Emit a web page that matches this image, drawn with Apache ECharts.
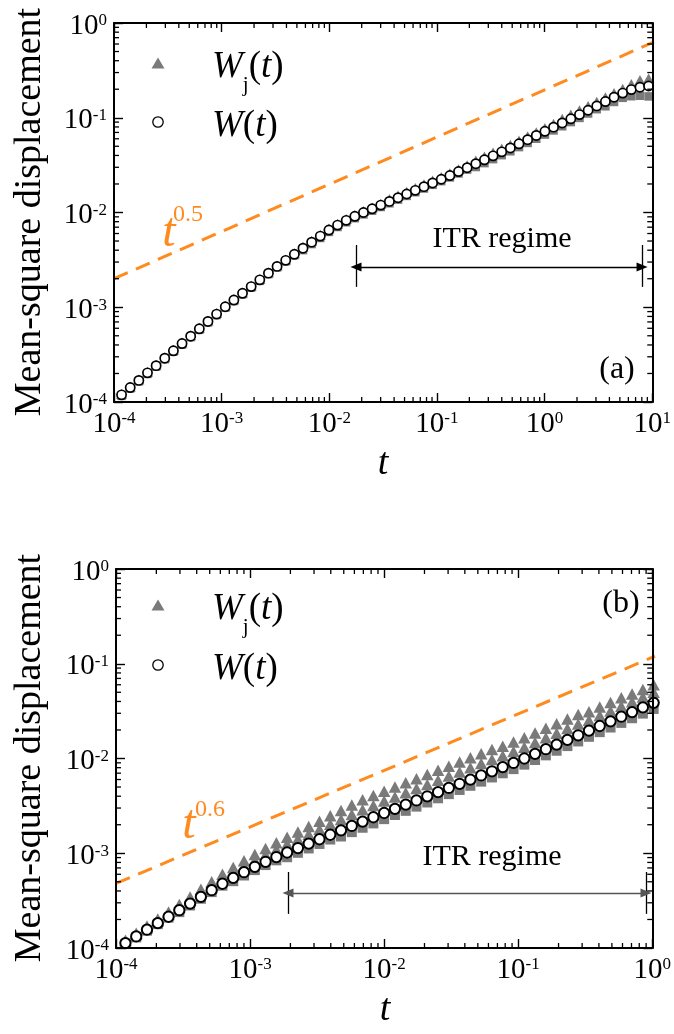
<!DOCTYPE html>
<html>
<head>
<meta charset="utf-8">
<script src="https://cdn.jsdelivr.net/npm/echarts@6/dist/echarts.min.js"></script>
<style>
html, body { margin: 0; padding: 0; background: #fff; }
#chart, #frame { position: absolute; left: 0; top: 0; width: 674px; height: 1034px; }
#frame { pointer-events: none; }
</style>
</head>
<body>
<div id="chart"></div>
<div id="frame"></div>
<script>
// time points, step of 0.08 decades (panel b uses the first 50)
const tA = [
  1.175e-4, 1.413e-4, 1.698e-4, 2.042e-4, 2.455e-4, 2.951e-4, 3.548e-4, 4.266e-4, 5.129e-4, 6.166e-4, 7.413e-4, 8.913e-4,
  1.072e-3, 1.288e-3, 1.549e-3, 1.862e-3, 2.239e-3, 2.692e-3, 3.236e-3, 3.890e-3, 4.677e-3, 5.623e-3, 6.761e-3, 8.128e-3, 9.772e-3,
  1.175e-2, 1.413e-2, 1.698e-2, 2.042e-2, 2.455e-2, 2.951e-2, 3.548e-2, 4.266e-2, 5.129e-2, 6.166e-2, 7.413e-2, 8.913e-2,
  0.1072, 0.1288, 0.1549, 0.1862, 0.2239, 0.2692, 0.3236, 0.3890, 0.4677, 0.5623, 0.6761, 0.8128, 0.9772,
  1.175, 1.413, 1.698, 2.042, 2.455, 2.951, 3.548, 4.266, 5.129, 6.166, 7.413, 8.913
];
const tB = tA.slice(0, 50);

// panel (a)
const wA = [
  1.19e-4, 1.42e-4, 1.69e-4, 2.03e-4, 2.42e-4, 2.90e-4, 3.47e-4, 4.14e-4, 4.95e-4, 5.92e-4, 7.08e-4, 8.47e-4,
  1.012e-3, 1.191e-3, 1.403e-3, 1.652e-3, 1.945e-3, 2.291e-3, 2.698e-3, 3.126e-3, 3.622e-3, 4.198e-3, 4.864e-3, 5.636e-3, 6.531e-3,
  7.362e-3, 8.260e-3, 9.120e-3, 1.000e-2, 1.094e-2, 1.197e-2, 1.309e-2, 1.432e-2, 1.567e-2, 1.714e-2, 1.875e-2, 2.051e-2,
  2.244e-2, 2.455e-2, 2.704e-2, 2.972e-2, 3.273e-2, 3.597e-2, 3.963e-2, 4.365e-2, 4.797e-2, 5.309e-2, 5.875e-2, 6.501e-2, 7.194e-2,
  7.962e-2, 8.810e-2, 9.750e-2, 0.1079, 0.1200, 0.1334, 0.1483, 0.1648, 0.1820, 0.1982, 0.2099, 0.2163
];
const wjHighA = [
  1.22e-4, 1.45e-4, 1.73e-4, 2.08e-4, 2.48e-4, 2.97e-4, 3.55e-4, 4.24e-4, 5.06e-4, 6.06e-4, 7.24e-4, 8.67e-4,
  1.035e-3, 1.218e-3, 1.435e-3, 1.690e-3, 1.990e-3, 2.344e-3, 2.760e-3, 3.198e-3, 3.705e-3, 4.345e-3, 5.034e-3, 5.833e-3, 6.760e-3,
  7.620e-3, 8.549e-3, 9.439e-3, 1.035e-2, 1.132e-2, 1.239e-2, 1.386e-2, 1.516e-2, 1.659e-2, 1.815e-2, 1.986e-2, 2.172e-2,
  2.376e-2, 2.600e-2, 2.864e-2, 3.147e-2, 3.548e-2, 3.899e-2, 4.296e-2, 4.732e-2, 5.200e-2, 5.755e-2, 6.369e-2, 7.047e-2, 7.798e-2,
  8.631e-2, 9.770e-2, 0.1081, 0.1197, 0.1331, 0.1479, 0.1645, 0.1828, 0.2018, 0.2275, 0.2500, 0.2600
];
const wjLowA = [
  1.16e-4, 1.39e-4, 1.65e-4, 1.98e-4, 2.36e-4, 2.83e-4, 3.39e-4, 4.04e-4, 4.84e-4, 5.78e-4, 6.92e-4, 8.28e-4,
  9.89e-4, 1.164e-3, 1.371e-3, 1.614e-3, 1.900e-3, 2.238e-3, 2.636e-3, 3.054e-3, 3.539e-3, 4.009e-3, 4.645e-3, 5.382e-3, 6.237e-3,
  7.031e-3, 7.888e-3, 8.710e-3, 9.550e-3, 1.045e-2, 1.143e-2, 1.250e-2, 1.368e-2, 1.496e-2, 1.637e-2, 1.791e-2, 1.959e-2,
  2.143e-2, 2.345e-2, 2.582e-2, 2.838e-2, 3.021e-2, 3.320e-2, 3.658e-2, 4.029e-2, 4.428e-2, 4.900e-2, 5.423e-2, 6.000e-2, 6.640e-2,
  7.349e-2, 8.132e-2, 9.000e-2, 9.959e-2, 0.1108, 0.1231, 0.1321, 0.1468, 0.1622, 0.1687, 0.1706, 0.1679
];

// panel (b)
const wB = [
  1.127e-4, 1.324e-4, 1.560e-4, 1.828e-4, 2.138e-4, 2.506e-4, 2.944e-4, 3.467e-4, 4.074e-4, 4.764e-4, 5.495e-4, 6.310e-4,
  7.194e-4, 8.128e-4, 9.120e-4, 1.019e-3, 1.135e-3, 1.262e-3, 1.406e-3, 1.567e-3, 1.746e-3, 1.941e-3, 2.158e-3, 2.399e-3, 2.661e-3,
  2.944e-3, 3.258e-3, 3.606e-3, 3.990e-3, 4.416e-3, 4.887e-3, 5.408e-3, 5.984e-3, 6.622e-3, 7.328e-3, 8.110e-3, 8.974e-3,
  1.000e-2, 1.119e-2, 1.253e-2, 1.403e-2, 1.570e-2, 1.758e-2, 1.968e-2, 2.203e-2, 2.466e-2, 2.761e-2, 3.090e-2, 3.459e-2, 3.873e-2
];
const wjTopB = [
  1.208e-4, 1.435e-4, 1.710e-4, 2.027e-4, 2.399e-4, 2.877e-4, 3.459e-4, 4.167e-4, 5.011e-4, 5.998e-4, 7.078e-4, 8.317e-4,
  9.705e-4, 1.122e-3, 1.289e-3, 1.472e-3, 1.679e-3, 1.911e-3, 2.178e-3, 2.484e-3, 2.832e-3, 3.222e-3, 3.664e-3, 4.073e-3, 4.518e-3,
  4.999e-3, 5.532e-3, 6.123e-3, 6.775e-3, 7.498e-3, 8.298e-3, 9.183e-3, 1.016e-2, 1.124e-2, 1.244e-2, 1.346e-2, 1.490e-2,
  1.660e-2, 1.858e-2, 2.080e-2, 2.329e-2, 2.606e-2, 2.918e-2, 3.119e-2, 3.492e-2, 3.909e-2, 4.376e-2, 4.786e-2, 5.358e-2, 5.999e-2
];
const wjMidB = [
  1.166e-4, 1.386e-4, 1.633e-4, 1.936e-4, 2.264e-4, 2.717e-4, 3.227e-4, 3.845e-4, 4.571e-4, 5.407e-4, 6.308e-4, 7.326e-4,
  8.453e-4, 9.664e-4, 1.096e-3, 1.253e-3, 1.413e-3, 1.589e-3, 1.791e-3, 2.018e-3, 2.275e-3, 2.558e-3, 2.879e-3, 3.200e-3, 3.550e-3,
  3.927e-3, 4.346e-3, 4.810e-3, 5.323e-3, 5.891e-3, 6.519e-3, 7.214e-3, 7.983e-3, 8.834e-3, 9.776e-3, 1.069e-2, 1.183e-2,
  1.318e-2, 1.475e-2, 1.651e-2, 1.849e-2, 2.069e-2, 2.317e-2, 2.535e-2, 2.838e-2, 3.176e-2, 3.556e-2, 3.980e-2, 4.455e-2, 4.988e-2
];
const wjLowB = [
  1.101e-4, 1.294e-4, 1.524e-4, 1.786e-4, 2.089e-4, 2.393e-4, 2.812e-4, 3.311e-4, 3.891e-4, 4.550e-4, 5.072e-4, 5.824e-4,
  6.640e-4, 7.502e-4, 8.418e-4, 9.079e-4, 1.011e-3, 1.124e-3, 1.253e-3, 1.396e-3, 1.503e-3, 1.671e-3, 1.858e-3, 2.066e-3, 2.291e-3,
  2.535e-3, 2.805e-3, 3.105e-3, 3.435e-3, 3.802e-3, 4.208e-3, 4.656e-3, 5.152e-3, 5.702e-3, 6.309e-3, 6.983e-3, 7.727e-3,
  8.610e-3, 9.635e-3, 1.079e-2, 1.208e-2, 1.352e-2, 1.514e-2, 1.694e-2, 1.897e-2, 2.123e-2, 2.377e-2, 2.660e-2, 2.978e-2, 3.335e-2
];

// power-law guides (end points)
const guideTA = [1e-4, 10];
const guideWA = [2.0e-3, 0.632];
const guideTB = [1e-4, 1];
const guideWB = [4.8e-4, 0.12];

// ITR regime markers: [t start, t end], bar extent, arrow level
const itrTA = [0.0174, 7.75];
const itrBarA = [1.64e-3, 4.54e-3];
const itrLevelA = 2.66e-3;
const itrTB = [1.89e-3, 0.857];
const itrBarB = [2.29e-4, 6.34e-4];
const itrLevelB = 3.80e-4;

const SERIF = 'Liberation Serif';
const GRAY = '#7a7a7a';
const ORANGE = '#ff8a1e';

const grids = [
  { left: 114, top: 23, width: 540, height: 379 },
  { left: 116, top: 569, width: 539, height: 379 }
];

// data chart below, axis frame chart on top
let chart = echarts.init(document.getElementById('chart'));
let frame = echarts.init(document.getElementById('frame'));

function pairs(xs, ys) {
  return ys.map(function (y, i) { return [xs[i], y]; });
}

function powLabel(v) {
  return '{b|10}{e|' + Math.round(Math.log10(v)) + '}';
}

const labelRich = {
  b: { fontFamily: SERIF, fontSize: 29, lineHeight: 28, padding: [6, 0, 0, 0], color: '#000' },
  e: { fontFamily: SERIF, fontSize: 17, lineHeight: 28, padding: [0, 0, 4, 0], color: '#000' }
};

// hidden axes for the data chart: they only map values to pixels
function plainAxis(gridIndex, min, max) {
  return {
    type: 'log', logBase: 10, gridIndex: gridIndex, min: min, max: max,
    axisLine: { show: false }, axisTick: { show: false }, axisLabel: { show: false }, splitLine: { show: false }
  };
}

// visible axes for the frame chart
function frameAxis(dim, gridIndex, position, min, max, labelled) {
  return {
    type: 'log', logBase: 10, gridIndex: gridIndex, position: position,
    min: min, max: max,
    axisLine: { show: true, onZero: false, lineStyle: { color: '#000', width: 2 } },
    axisTick: { show: true, inside: true, length: 9, lineStyle: { color: '#000', width: 1.4 } },
    splitLine: { show: false },
    axisLabel: { show: labelled, formatter: powLabel, rich: labelRich, margin: dim === 'x' ? 5 : 7 }
  };
}

function scatter(axisIndex, xs, ys, symbol, size, itemStyle) {
  return {
    type: 'scatter', xAxisIndex: axisIndex, yAxisIndex: axisIndex,
    data: pairs(xs, ys), symbol: symbol, symbolSize: size, itemStyle: itemStyle
  };
}

function itrMarks(range, bars, level, color) {
  return {
    symbol: ['none', 'none'], label: { show: false },
    lineStyle: { color: '#000', width: 1.3, type: 'solid' },
    data: [
      [{ coord: [range[0], bars[0]] }, { coord: [range[0], bars[1]] }],
      [{ coord: [range[1], bars[0]] }, { coord: [range[1], bars[1]] }],
      [
        { coord: [range[0], level], symbol: 'triangle', symbolSize: [9, 11], lineStyle: { color: color } },
        { coord: [range[1], level], symbol: 'triangle', symbolSize: [9, 11] }
      ]
    ]
  };
}

function guide(axisIndex, ts, ws, marks) {
  return {
    type: 'line', xAxisIndex: axisIndex, yAxisIndex: axisIndex,
    data: pairs(ts, ws), symbol: 'none',
    lineStyle: { color: ORANGE, width: 3, type: [15, 9] },
    markLine: marks
  };
}

const legendRich = {
  w: { fontFamily: SERIF, fontStyle: 'italic', fontSize: 37, lineHeight: 40, padding: [9, 0, 0, 0], fill: '#000' },
  j: { fontFamily: SERIF, fontSize: 21, lineHeight: 40, padding: [44, 0, 0, 0], fill: '#000' },
  p: { fontFamily: SERIF, fontSize: 37, lineHeight: 40, padding: [9, 0, 0, 0], fill: '#000' },
  t: { fontFamily: SERIF, fontStyle: 'italic', fontSize: 37, lineHeight: 40, padding: [9, 0, 0, 0], fill: '#000' }
};

function text(x, y, str, font, color, rotation) {
  return {
    type: 'text', x: x, y: y, z: 20, rotation: rotation || 0,
    style: { text: str, font: font, fill: color || '#000', align: 'center', verticalAlign: 'middle' }
  };
}

// legend keys: triangle + W_j(t), circle + W(t)
function legendKey(cy1, cy2) {
  return [
    { type: 'polygon', z: 20, shape: { points: [[151.5, cy1 + 5.5], [158, cy1 - 5.5], [164.5, cy1 + 5.5]] }, style: { fill: GRAY } },
    { type: 'circle', z: 20, shape: { cx: 158, cy: cy2, r: 5.2 }, style: { fill: '#fff', stroke: '#000', lineWidth: 1.3 } },
    { type: 'text', z: 20, x: 212, y: cy1, style: { text: '{w|W}{j|j}{p|(}{t|t}{p|)}', rich: legendRich, align: 'left', verticalAlign: 'middle' } },
    { type: 'text', z: 20, x: 212, y: cy2, style: { text: '{w|W}{p|(}{t|t}{p|)}', rich: legendRich, align: 'left', verticalAlign: 'middle' } }
  ];
}

const circleA = { color: '#fff', borderColor: '#000', borderWidth: 1.7, opacity: 1 };
const circleB = { color: '#fff', borderColor: '#000', borderWidth: 2, opacity: 1 };
const grayFill = { color: GRAY, opacity: 1 };

const labels = [
  text(30, 212, 'Mean-square displacement', '38px "Liberation Serif"', '#000', Math.PI / 2),
  text(30, 758, 'Mean-square displacement', '38px "Liberation Serif"', '#000', Math.PI / 2),
  text(383, 464, 't', 'italic 38px "Liberation Serif"'),
  text(385, 1010, 't', 'italic 38px "Liberation Serif"'),
  text(617, 370, '(a)', '32px "Liberation Serif"'),
  text(621, 604, '(b)', '32px "Liberation Serif"'),
  text(502, 239, 'ITR regime', '30px "Liberation Serif"'),
  text(492, 857, 'ITR regime', '30px "Liberation Serif"'),
  text(169, 233, 't', 'italic 48px "Liberation Serif"', ORANGE),
  text(188, 215, '0.5', '24px "Liberation Serif"', ORANGE),
  text(189, 825, 't', 'italic 48px "Liberation Serif"', ORANGE),
  text(210, 810, '0.6', '24px "Liberation Serif"', ORANGE)
].concat(legendKey(63, 122), legendKey(605, 665));

chart.setOption({
  animation: false,
  grid: grids,
  xAxis: [plainAxis(0, 1e-4, 10), plainAxis(1, 1e-4, 1)],
  yAxis: [plainAxis(0, 1e-4, 1), plainAxis(1, 1e-4, 1)],
  series: [
    scatter(0, tA, wjLowA, 'rect', 8.5, grayFill),
    scatter(0, tA, wjHighA, 'triangle', [11, 10], grayFill),
    scatter(0, tA, wA, 'circle', 9.2, circleA),
    guide(0, guideTA, guideWA, itrMarks(itrTA, itrBarA, itrLevelA, '#000')),

    scatter(1, tB, wjLowB, 'rect', 10, grayFill),
    scatter(1, tB, wjTopB, 'triangle', [12.5, 11.5], grayFill),
    scatter(1, tB, wjMidB, 'triangle', [12.5, 11.5], grayFill),
    scatter(1, tB, wB, 'circle', 10.3, circleB),
    guide(1, guideTB, guideWB, itrMarks(itrTB, itrBarB, itrLevelB, '#555'))
  ],
  graphic: labels
});

frame.setOption({
  animation: false,
  grid: grids,
  xAxis: [
    frameAxis('x', 0, 'bottom', 1e-4, 10, true),
    frameAxis('x', 0, 'top', 1e-4, 10, false),
    frameAxis('x', 1, 'bottom', 1e-4, 1, true),
    frameAxis('x', 1, 'top', 1e-4, 1, false)
  ],
  yAxis: [
    frameAxis('y', 0, 'left', 1e-4, 1, true),
    frameAxis('y', 0, 'right', 1e-4, 1, false),
    frameAxis('y', 1, 'left', 1e-4, 1, true),
    frameAxis('y', 1, 'right', 1e-4, 1, false)
  ],
  series: [
    { type: 'line', xAxisIndex: 0, yAxisIndex: 0, data: [] },
    { type: 'line', xAxisIndex: 2, yAxisIndex: 2, data: [] }
  ]
});

// minor ticks at 2..9 x 10^k on all four sides, placed with the frame axes' scales
function minorValues(e0, e1) {
  let out = [];
  for (let e = e0; e < e1; e++) {
    for (let m = 2; m <= 9; m++) out.push(m * Math.pow(10, e));
  }
  return out;
}

function minorLines(xi, yi, xr, yr) {
  const out = [];
  const px = function (v) { return frame.convertToPixel({ xAxisIndex: xi }, v); };
  const py = function (v) { return frame.convertToPixel({ yAxisIndex: yi }, v); };
  const left = px(xr[0]), right = px(xr[1]), bottom = py(yr[0]), top = py(yr[1]);
  const len = 5;
  const seg = function (x1, y1, x2, y2) {
    out.push({ type: 'line', z: 15,
      shape: { x1: x1, y1: y1, x2: x2, y2: y2 },
      style: { stroke: '#000', lineWidth: 1.3 } });
  };
  minorValues(Math.round(Math.log10(xr[0])), Math.round(Math.log10(xr[1]))).forEach(function (v) {
    const x = px(v);
    seg(x, bottom, x, bottom - len);
    seg(x, top, x, top + len);
  });
  minorValues(Math.round(Math.log10(yr[0])), Math.round(Math.log10(yr[1]))).forEach(function (v) {
    const y = py(v);
    seg(left, y, left + len, y);
    seg(right, y, right - len, y);
  });
  return out;
}

frame.setOption({
  graphic: minorLines(0, 0, [1e-4, 10], [1e-4, 1]).concat(minorLines(2, 2, [1e-4, 1], [1e-4, 1]))
});
</script>
</body>
</html>
